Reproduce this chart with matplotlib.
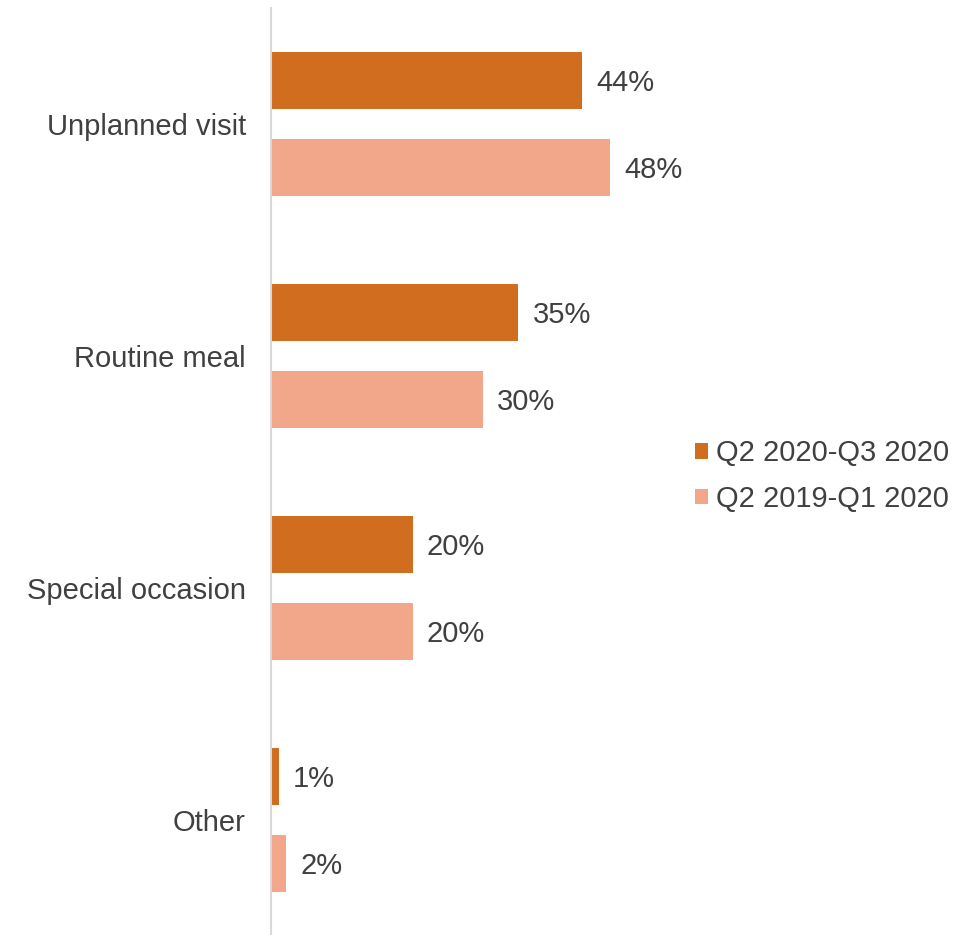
import matplotlib
matplotlib.use("Agg")
import matplotlib.pyplot as plt
from matplotlib.patches import Patch

categories = ["Unplanned visit", "Routine meal", "Special occasion", "Other"]
series_names = ["Q2 2020-Q3 2020", "Q2 2019-Q1 2020"]
recent = [44, 35, 20, 1]
previous = [48, 30, 20, 2]
colors = ["#D06D1F", "#F3A78A"]
text_color = "#404040"

plt.rcParams['font.family'] = ['Liberation Sans', 'DejaVu Sans']
FS = 21

W, H = 977, 935
fig = plt.figure(figsize=(W / 100, H / 100), dpi=100)
ax = fig.add_axes([271 / W, 1 - 936 / H, 704 / W, 928 / H])

bh = 57 / 232
off = 43.5 / 232
ys = list(range(len(categories)))
for i, (vals, col) in enumerate(zip([recent, previous], colors)):
    pos = [y + (-off if i == 0 else off) for y in ys]
    ax.barh(pos, vals, height=bh, color=col, left=0.15)
    for p, v in zip(pos, vals):
        ax.text(v + 0.15 + 2.0, p, f"{v}%", va="center_baseline", ha="left",
                fontsize=FS, color=text_color)

ax.set_xlim(0, 100)
ax.set_ylim(3.5, -0.5)
ax.set_yticks(ys)
ax.set_yticklabels(categories, fontsize=FS, color=text_color)
ax.tick_params(axis="y", length=0, pad=18)
ax.set_xticks([])
for s in ["top", "right", "bottom"]:
    ax.spines[s].set_visible(False)
ax.spines["left"].set_color("#D9D9D9")
ax.spines["left"].set_linewidth(1.5)

handles = [Patch(facecolor=c, edgecolor="none") for c in colors]
leg = fig.legend(handles, series_names, loc="center left",
                 bbox_to_anchor=(680 / W, 1 - 476 / H), frameon=False,
                 fontsize=FS, handlelength=0.45, handleheight=0.45,
                 handletextpad=0.3, labelspacing=0.6, borderpad=0)
for t in leg.get_texts():
    t.set_color(text_color)

fig.savefig("out.png", dpi=100)
